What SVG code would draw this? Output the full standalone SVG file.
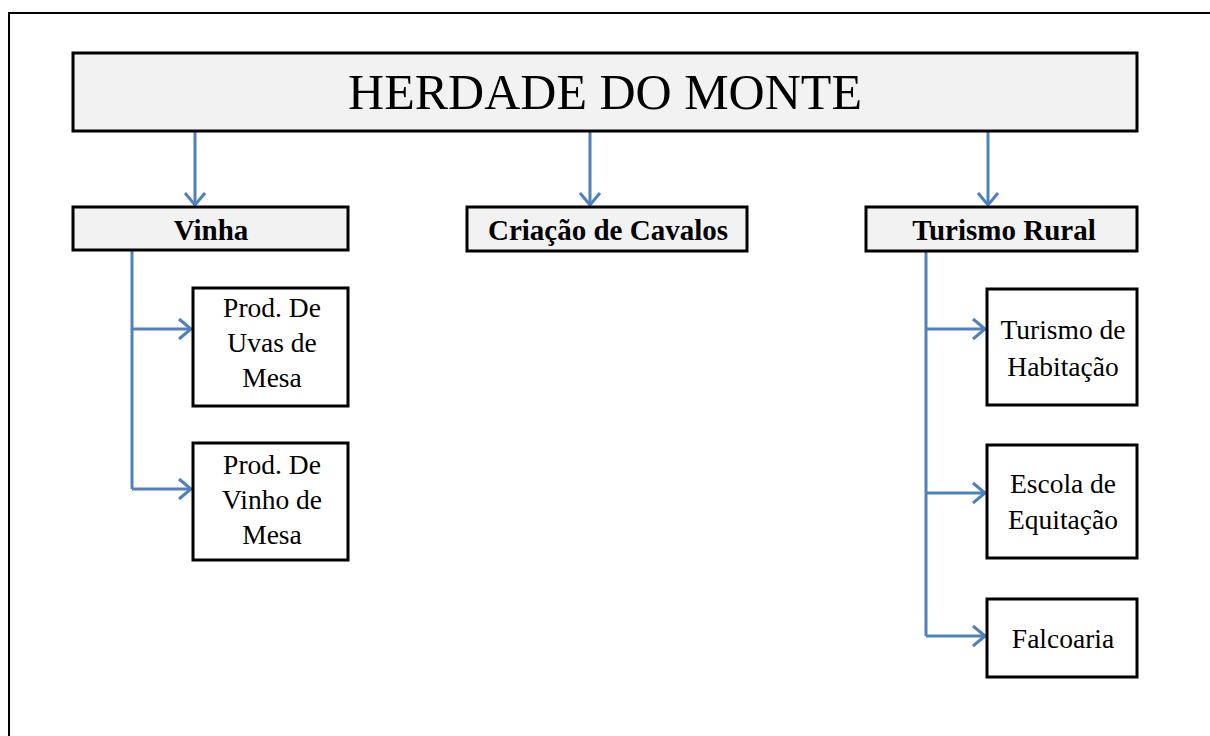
<svg xmlns="http://www.w3.org/2000/svg" width="1210" height="736" viewBox="0 0 1210 736">
<defs>
<style>
.box{stroke:#000;stroke-width:3;}
.hdr{fill:#f2f2f2;}
.sub{fill:#fff;}
.conn{fill:none;stroke:#4f81bd;stroke-width:3;}
.t{font-family:"Liberation Serif","Times New Roman",serif;fill:#000;text-anchor:middle;}
.b{font-weight:bold;font-size:29px;}
.r{font-size:27.5px;}
</style>
<marker id="arr" markerUnits="userSpaceOnUse" markerWidth="24" markerHeight="24" viewBox="-14 -12 16 24" refX="0" refY="0" orient="auto">
<path d="M-12,-10 L0,0 L-12,10" fill="none" stroke="#4f81bd" stroke-width="3"/>
</marker>
</defs>
<rect width="1210" height="736" fill="#fff"/>
<path d="M9,736 L9,13 L1210,13" fill="none" stroke="#000" stroke-width="2"/>

<g id="connectors">
<path class="conn" d="M195,131 L195,205" marker-end="url(#arr)"/>
<path class="conn" d="M590,131 L590,205" marker-end="url(#arr)"/>
<path class="conn" d="M988,131 L988,205" marker-end="url(#arr)"/>
<path class="conn" d="M132,251 L132,489"/>
<path class="conn" d="M132,329 L191,329" marker-end="url(#arr)"/>
<path class="conn" d="M132,489 L191,489" marker-end="url(#arr)"/>
<path class="conn" d="M926,252 L926,636"/>
<path class="conn" d="M926,329 L985,329" marker-end="url(#arr)"/>
<path class="conn" d="M926,493 L985,493" marker-end="url(#arr)"/>
<path class="conn" d="M926,636 L985,636" marker-end="url(#arr)"/>
</g>

<g id="herdade">
<rect class="box hdr" x="73" y="53" width="1064" height="78"/>
<text class="t" x="605" y="109" font-size="50">HERDADE DO MONTE</text>
</g>

<g id="vinha">
<rect class="box hdr" x="73" y="207" width="275" height="43"/>
<text class="t b" x="211" y="240">Vinha</text>
</g>

<g id="cavalos">
<rect class="box hdr" x="467" y="207" width="280" height="44"/>
<text class="t b" x="608" y="240">Criação de Cavalos</text>
</g>

<g id="turismo-rural">
<rect class="box hdr" x="866" y="207" width="271" height="44"/>
<text class="t b" x="1004" y="240">Turismo Rural</text>
</g>

<g id="uvas">
<rect class="box sub" x="193" y="288" width="155" height="118"/>
<text class="t r" x="272" y="317">Prod. De</text>
<text class="t r" x="272" y="352">Uvas de</text>
<text class="t r" x="272" y="387">Mesa</text>
</g>

<g id="vinho">
<rect class="box sub" x="193" y="443" width="155" height="117"/>
<text class="t r" x="272" y="474">Prod. De</text>
<text class="t r" x="272" y="509">Vinho de</text>
<text class="t r" x="272" y="544">Mesa</text>
</g>

<g id="habitacao">
<rect class="box sub" x="987" y="289" width="150" height="116"/>
<text class="t r" x="1063" y="339">Turismo de</text>
<text class="t r" x="1063" y="376">Habitação</text>
</g>

<g id="equitacao">
<rect class="box sub" x="987" y="445" width="150" height="113"/>
<text class="t r" x="1063" y="493">Escola de</text>
<text class="t r" x="1063" y="529">Equitação</text>
</g>

<g id="falcoaria">
<rect class="box sub" x="987" y="599" width="150" height="78"/>
<text class="t r" x="1063" y="648">Falcoaria</text>
</g>
</svg>
